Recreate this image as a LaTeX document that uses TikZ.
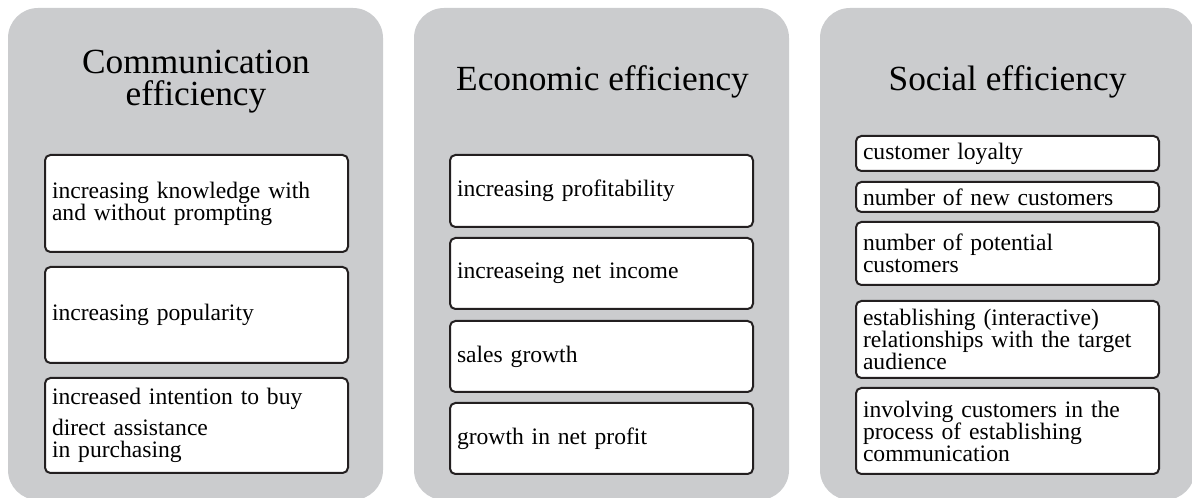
\documentclass[tikz,border=0pt]{standalone}
\usepackage{fontspec}
\setmainfont{Liberation Serif}
\definecolor{panelgray}{RGB}{203,204,206}
\definecolor{boxline}{RGB}{35,31,32}
\tikzset{
  panel/.style={fill=panelgray, rounded corners=22.5pt},
  ptitle/.style={align=center, inner sep=0pt, font=\fontsize{26.5pt}{24pt}\selectfont},
  item/.style={draw=boxline, line width=1.5pt, fill=white, rounded corners=4pt,
    text width=216.75pt, inner xsep=5.25pt, inner ysep=0pt, minimum width=227.25pt,
    align=left, font=\fontsize{17.7pt}{16.5pt}\selectfont}
}
\begin{document}
\begin{tikzpicture}[x=0.75pt,y=-0.75pt]
\useasboundingbox (0,0) rectangle (1192,498);
\clip (0,0) rectangle (1192,498);
% panels
\fill[panel] (8,8) rectangle (383,500);
\fill[panel] (414,8) rectangle (789,500);
\fill[panel] (820,8) rectangle (1195,500);
% titles
\node[ptitle] (t1) at (196,82) {Communication\\efficiency};
\node[ptitle, anchor=base] (t2) at (602.5,91) {Economic efficiency};
\node[ptitle, anchor=base] (t3) at (1007.5,91) {Social efficiency};
% panel 1
\node[item, minimum height=72.75pt] (a1) at (196.5,203.5) {increasing knowledge with\\and without prompting};
\node[item, minimum height=72pt] (a2) at (196.5,315) {increasing popularity};
\node[item, minimum height=71.25pt] (a3) at (196.5,425.5) {increased intention to buy\\[6.75pt]direct assistance\\in purchasing};
% panel 2
\node[item, minimum height=54pt] (b1) at (601.5,191) {increasing profitability};
\node[item, minimum height=53.25pt] (b2) at (601.5,273.5) {increaseing net income};
\node[item, minimum height=53.25pt] (b3) at (601.5,356.5) {sales growth};
\node[item, minimum height=53.25pt] (b4) at (601.5,438.5) {growth in net profit};
% panel 3
\node[item, minimum height=26.25pt] (c1) at (1007.5,153.5) {customer loyalty};
\node[item, minimum height=22.5pt] (c2) at (1007.5,197) {number of new customers};
\node[item, minimum height=47.25pt] (c3) at (1007.5,253.5) {number of potential\\customers};
\node[item, minimum height=57.75pt] (c4) at (1007.5,339.5) {establishing (interactive)\\relationships with the target\\audience};
\node[item, minimum height=64.5pt] (c5) at (1007.5,431) {involving customers in the\\process of establishing\\communication};
\end{tikzpicture}
\end{document}
